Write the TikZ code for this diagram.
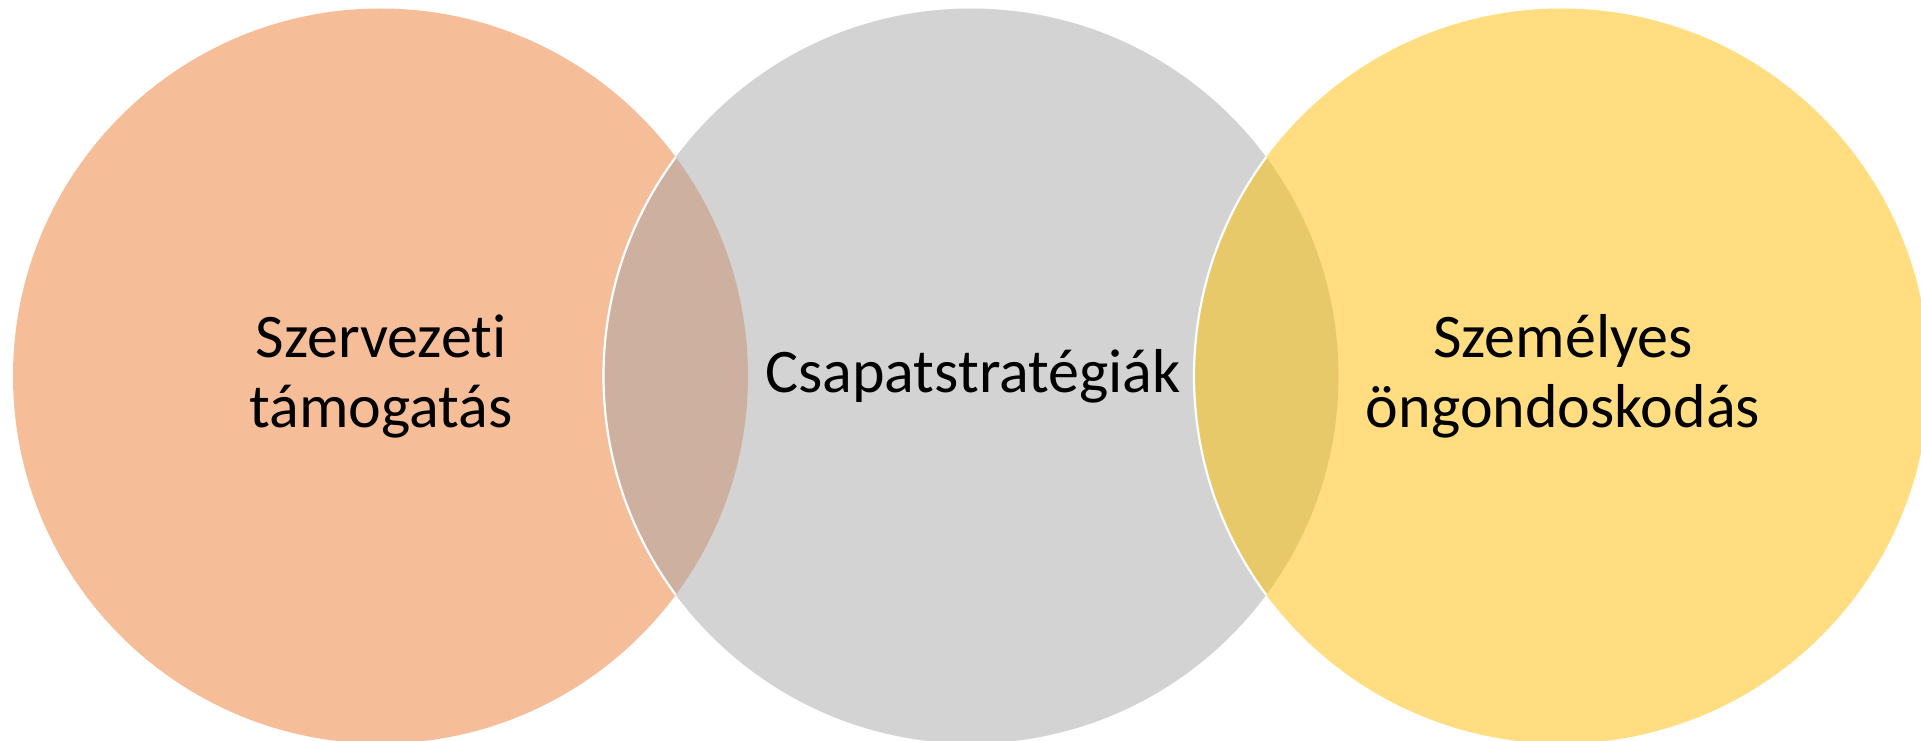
\documentclass[tikz,border=0pt]{standalone}
\usepackage{fontspec}
\setmainfont{Carlito}[Ligatures={NoCommon,NoRare,NoDiscretionary}]
\definecolor{corange}{RGB}{246,190,152}
\definecolor{cgray}{RGB}{211,211,211}
\definecolor{cyellow}{RGB}{255,221,128}
\definecolor{clensA}{RGB}{205,176,159}
\definecolor{clensB}{RGB}{232,201,106}
\tikzset{
  lbl/.style={font=\fontsize{62}{70}\selectfont, align=center, text=black, inner sep=0pt},
  rim/.style={draw=white, line width=2.2pt}
}
\begin{document}
\begin{tikzpicture}[x=1pt,y=-1pt]
\useasboundingbox (0,0) rectangle (1921,741);
\clip (0,0) rectangle (1921,741);
\def\R{367.5}
\coordinate (cL) at (380.5,376);
\coordinate (cM) at (971,376);
\coordinate (cR) at (1561.5,376);
% circles
\fill[corange] (cL) circle (\R);
\fill[cgray] (cM) circle (\R);
\fill[cyellow] (cR) circle (\R);
% lenses
\begin{scope}
  \clip (cL) circle (\R);
  \fill[clensA] (cM) circle (\R);
\end{scope}
\begin{scope}
  \clip (cM) circle (\R);
  \fill[clensB] (cR) circle (\R);
\end{scope}
% white rims
\begin{scope}
  \clip (cL) circle (\R);
  \draw[rim] (cM) circle (\R);
\end{scope}
\begin{scope}
  \clip (cM) circle (\R);
  \draw[rim] (cR) circle (\R);
\end{scope}
% labels
\node[lbl] (tL) at (381,376) {Szervezeti\\támogatás};
\node[lbl] (tM) at (973,376) {Csapatstratégiák};
\node[lbl] (tR) at (1563,376) {Személyes\\öngondoskodás};
\end{tikzpicture}
\end{document}
